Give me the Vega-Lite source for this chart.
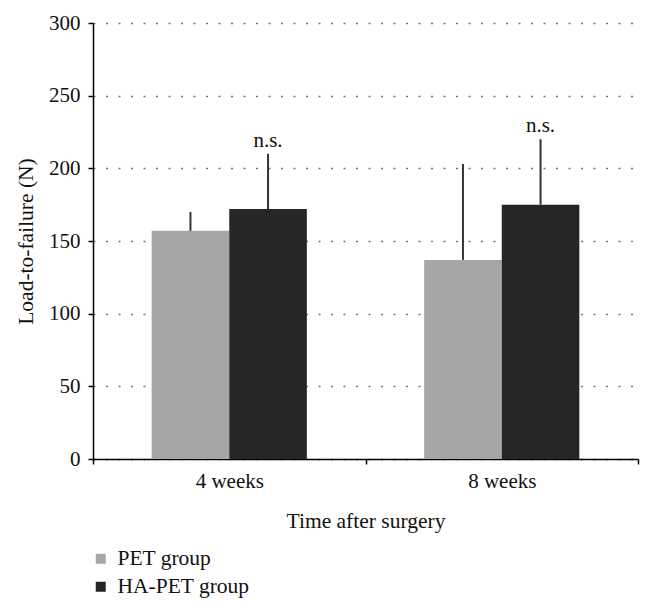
{
  "$schema": "https://vega.github.io/schema/vega-lite/v6.json",
  "autosize": {"type": "none"},
  "width": 545,
  "height": 436,
  "padding": {"left": 93, "top": 23, "right": 15, "bottom": 152},
  "background": "white",
  "config": {
    "view": {"stroke": null},
    "font": "Liberation Serif",
    "axis": {"labelFont": "Liberation Serif", "titleFont": "Liberation Serif", "labelColor": "#111", "titleColor": "#111", "titleFontWeight": "normal", "labelFontSize": 21, "titleFontSize": 21.5, "domainColor": "#000", "tickColor": "#000", "domainWidth": 1.5, "tickWidth": 1.5, "tickSize": 5},
    "legend": {"labelFont": "Liberation Serif", "labelFontSize": 21.5, "labelColor": "#111"}
  },
  "data": {
    "values": [
      {"time": "4 weeks", "group": "PET group", "value": 157, "upper": 170, "label": ""},
      {"time": "4 weeks", "group": "HA-PET group", "value": 172, "upper": 210, "label": "n.s."},
      {"time": "8 weeks", "group": "PET group", "value": 137, "upper": 203, "label": ""},
      {"time": "8 weeks", "group": "HA-PET group", "value": 175, "upper": 220, "label": "n.s."}
    ]
  },
  "encoding": {
    "x": {
      "field": "time", "type": "nominal", "sort": ["4 weeks", "8 weeks"],
      "scale": {"paddingInner": 0, "paddingOuter": 0},
      "axis": {"title": "Time after surgery", "labelAngle": 0, "tickBand": "extent", "labelPadding": 6, "titlePadding": 19, "grid": false}
    },
    "xOffset": {
      "field": "group", "type": "nominal", "sort": ["PET group", "HA-PET group"],
      "scale": {"paddingInner": 0, "paddingOuter": 0.756}
    }
  },
  "layer": [
    {
      "mark": {"type": "bar"},
      "encoding": {
        "y": {
          "field": "value", "type": "quantitative",
          "scale": {"domain": [0, 300], "nice": false},
          "axis": {"title": "Load-to-failure (N)", "values": [0, 50, 100, 150, 200, 250, 300], "labelPadding": 8, "titlePadding": 11, "grid": true, "gridColor": "#777", "gridDash": [2, 10.5], "gridWidth": 1.5}
        },
        "color": {
          "field": "group", "type": "nominal",
          "scale": {"domain": ["PET group", "HA-PET group"], "range": ["#a6a6a6", "#262626"]},
          "legend": {"title": null, "orient": "none", "legendX": -3, "legendY": 525, "direction": "vertical", "symbolType": "square", "symbolSize": 100, "symbolStrokeWidth": 0, "labelOffset": 6, "rowPadding": 5, "padding": 0}
        }
      }
    },
    {
      "mark": {"type": "rule", "color": "#333", "strokeWidth": 2},
      "encoding": {
        "y": {"field": "value", "type": "quantitative"},
        "y2": {"field": "upper"}
      }
    },
    {
      "mark": {"type": "text", "fontSize": 21, "baseline": "alphabetic", "dy": -7, "color": "#111", "font": "Liberation Serif"},
      "encoding": {
        "y": {"field": "upper", "type": "quantitative"},
        "text": {"field": "label"}
      }
    }
  ]
}
